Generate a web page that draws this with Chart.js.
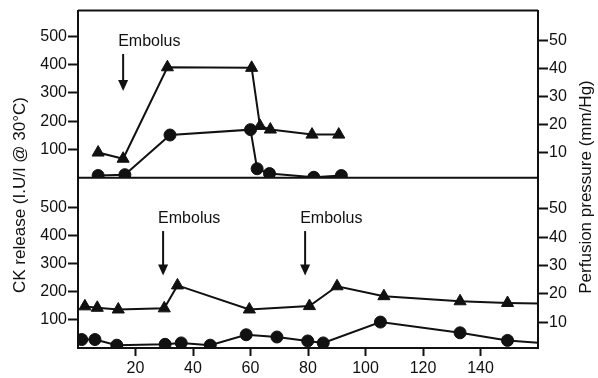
<!DOCTYPE html>
<html lang="en">
<head>
<meta charset="UTF-8">
<title>CK release and perfusion pressure</title>
<script src="https://cdn.jsdelivr.net/npm/chart.js"></script>
<style>
  body { margin: 0; background: #fff; }
  #wrap { position: relative; width: 598px; height: 378px; }
</style>
</head>
<body>
<div id="wrap"><canvas id="ckChart"></canvas></div>
<script>
// tick labels
const xTicks = [20, 40, 60, 80, 100, 120, 140];
const ckTicks = [100, 200, 300, 400, 500];
const ppTicks = [10, 20, 30, 40, 50];

// upper panel: one embolus
const topCkTime = [7, 16.3, 32, 60, 62.3, 66.6, 82, 91.6];
const topCk     = [8, 11, 151, 170, 32, 15, 2, 8];
const topPpTime = [7, 15.7, 31.1, 60.4, 63.3, 66.9, 81.4, 90.7];
const topPp     = [10, 7.8, 40.4, 40.2, 19.5, 18.2, 16.4, 16.4];
const topEmboli = [15.7];

// lower panel: two emboli
const botCkTime = [1.3, 5.9, 13.5, 30.3, 35.9, 46, 58.5, 69.2, 79.9, 85.3, 105.2, 132.9, 149.4, 165];
const botCk     = [30, 30, 10, 13, 18, 10, 47, 39, 25, 18, 92, 54, 27, 15];
const botPpTime = [2.4, 6.7, 14, 30, 34.6, 59.6, 80.5, 90.1, 106.4, 132.9, 149.4, 165];
const botPp     = [15.6, 15.1, 14.5, 14.9, 23, 14.5, 15.7, 22.7, 19.2, 17.4, 16.8, 16.5];
const botEmboli = [29.6, 79];

const ink = '#111';
const tickFont = { family: '"Liberation Sans", Arial, sans-serif', size: 16 };
const titleFont = '17px "Liberation Sans", Arial, sans-serif';

const pts = (xs, ys) => xs.map((x, i) => ({ x: x, y: ys[i] }));

function series(label, data, axis, shape) {
  return {
    label: label,
    data: data,
    yAxisID: axis,
    showLine: true,
    borderColor: ink,
    backgroundColor: ink,
    borderWidth: 2,
    pointStyle: shape,
    pointRadius: shape === 'triangle' ? 7 : 6,
    pointBackgroundColor: ink,
    pointBorderColor: ink,
    pointBorderWidth: 1
  };
}

function yAxis(pos, min, max, weight, ticks) {
  return {
    type: 'linear',
    position: pos,
    stack: pos,
    stackWeight: weight,
    min: min,
    max: max,
    afterBuildTicks: a => { a.ticks = ticks.map(v => ({ value: v })); },
    afterFit: s => { s.width = pos === 'left' ? 78 : 60; },
    grid: { drawOnChartArea: false, tickLength: 10, tickWidth: 2, tickColor: ink },
    border: { color: ink, width: 2 },
    ticks: { color: ink, font: tickFont, padding: 1 }
  };
}

function arrow(ctx, x, y0, y1) {
  ctx.beginPath();
  ctx.moveTo(x, y0);
  ctx.lineTo(x, y1 - 9);
  ctx.stroke();
  ctx.beginPath();
  ctx.moveTo(x - 5, y1 - 11);
  ctx.lineTo(x + 5, y1 - 11);
  ctx.lineTo(x, y1);
  ctx.closePath();
  ctx.fill();
}

// frame lines, axis titles and embolus marks
const decor = {
  id: 'decor',
  beforeDatasetsDraw(chart) {
    const { ctx, chartArea: a, scales } = chart;
    ctx.save();
    ctx.strokeStyle = ink;
    ctx.lineWidth = 2;
    ctx.beginPath();
    ctx.moveTo(a.left, a.top);
    ctx.lineTo(a.right, a.top);
    ctx.moveTo(a.left, scales.yTop.bottom);
    ctx.lineTo(a.right, scales.yTop.bottom);
    ctx.stroke();
    ctx.restore();
  },
  afterDraw(chart) {
    const { ctx, scales } = chart;
    const x = scales.x;
    ctx.save();
    ctx.fillStyle = ink;
    ctx.strokeStyle = ink;
    ctx.lineWidth = 2;
    ctx.font = titleFont;
    ctx.textAlign = 'center';
    ctx.textBaseline = 'middle';
    ctx.save();
    ctx.translate(20, 195);
    ctx.rotate(-Math.PI / 2);
    ctx.fillText('CK release (I.U/I @ 30°C)', 0, 0);
    ctx.restore();
    ctx.save();
    ctx.translate(586, 187);
    ctx.rotate(-Math.PI / 2);
    ctx.fillText('Perfusion pressure (mm/Hg)', 0, 0);
    ctx.restore();

    ctx.font = '16px "Liberation Sans", Arial, sans-serif';
    ctx.textAlign = 'left';
    const marks = [
      { list: topEmboli, s: scales.yTop, text: 481, from: 437, to: 306 },
      { list: botEmboli, s: scales.yBot, text: 461, from: 415, to: 257 }
    ];
    marks.forEach(m => m.list.forEach(t => {
      const px = x.getPixelForValue(t);
      ctx.fillText('Embolus', px - 5, m.s.getPixelForValue(m.text));
      arrow(ctx, px, m.s.getPixelForValue(m.from), m.s.getPixelForValue(m.to));
    }));
    ctx.restore();
  }
};

new Chart(document.getElementById('ckChart'), {
  type: 'scatter',
  data: {
    datasets: [
      series('CK release', pts(topCkTime, topCk), 'yTop', 'circle'),
      series('Perfusion pressure', pts(topPpTime, topPp), 'yTopR', 'triangle'),
      series('CK release', pts(botCkTime, botCk), 'yBot', 'circle'),
      series('Perfusion pressure', pts(botPpTime, botPp), 'yBotR', 'triangle')
    ]
  },
  options: {
    responsive: true,
    maintainAspectRatio: false,
    animation: false,
    layout: { padding: { top: 8 } },
    plugins: { legend: { display: false }, tooltip: { enabled: false } },
    scales: {
      x: {
        type: 'linear',
        min: 0,
        max: 160,
        afterBuildTicks: a => { a.ticks = xTicks.map(v => ({ value: v })); },
        afterFit: s => { s.height = 30; },
        grid: { drawOnChartArea: false, tickLength: 8, tickWidth: 2, tickColor: ink },
        border: { color: ink, width: 2 },
        ticks: { color: ink, font: tickFont, maxRotation: 0 }
      },
      yBot: yAxis('left', 0, 604, 171.5, ckTicks),
      yTop: yAxis('left', 0, 590, 168.5, ckTicks),
      yTopR: yAxis('right', 1, 60.6, 168.5, ppTicks),
      yBotR: yAxis('right', 0.9, 61, 171.5, ppTicks)
    }
  },
  plugins: [decor]
});
</script>
</body>
</html>
